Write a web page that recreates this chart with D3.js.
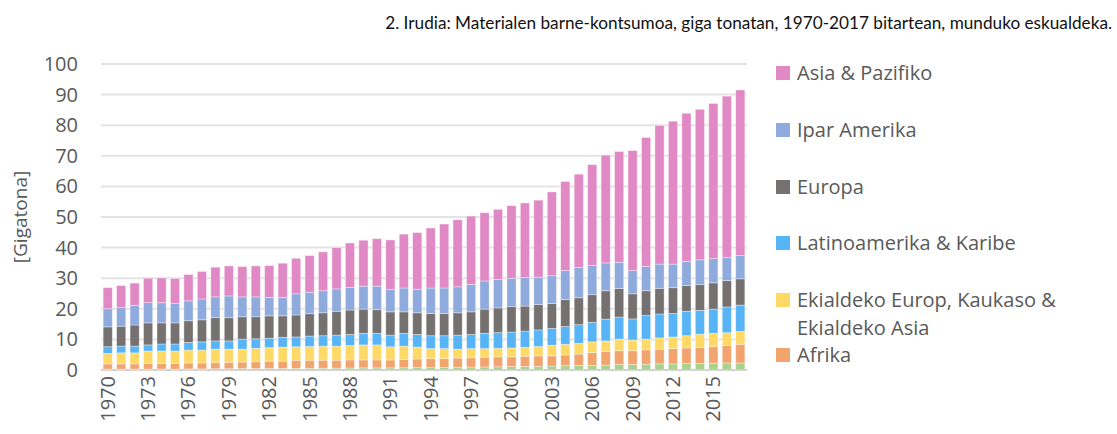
<!DOCTYPE html>
<html>
<head>
<meta charset="utf-8">
<script src="https://cdn.jsdelivr.net/npm/d3@7"></script>
<style>
  body { margin: 0; background: #fff; }
  text { font-family: "Open Sans", "Noto Sans", sans-serif; }
</style>
</head>
<body>
<svg id="chart" width="1117" height="434"></svg>
<script>
var years = d3.range(1970, 2018);
var tickYears = [1970, 1973, 1976, 1979, 1982, 1985, 1988, 1991, 1994, 1997, 2000, 2003, 2006, 2009, 2012, 2015];
var yTicks = [0, 10, 20, 30, 40, 50, 60, 70, 80, 90, 100];

// series values in gigatonnes, bottom to top
var mendebaldekoAsia = [0.3,0.3,0.3,0.3,0.3,0.3,0.35,0.35,0.4,0.4,0.45,0.45,0.5,0.5,0.5,0.55,0.6,0.6,0.65,0.7,0.7,0.7,0.75,0.8,0.8,0.85,0.9,0.95,1.0,1.05,1.1,1.15,1.2,1.3,1.4,1.5,1.5,1.6,1.8,1.8,1.9,2.0,2.0,2.1,2.1,2.2,2.3,2.3];
var afrika = [1.7,1.7,1.7,1.8,1.8,1.8,1.95,1.95,2.0,2.1,2.15,2.25,2.4,2.4,2.7,2.65,2.6,2.6,2.65,2.6,2.6,2.6,2.65,2.8,2.9,2.85,3.0,3.05,3.2,3.25,3.2,3.35,3.4,3.3,3.5,3.7,4.2,4.4,4.5,4.5,4.7,4.8,5.0,5.1,5.3,5.4,5.7,6.1];
var ekialdekoEuropa = [3.4,3.6,3.6,4.1,4.1,4.1,4.2,4.2,4.4,4.3,4.2,4.4,4.4,4.6,4.4,4.5,4.6,4.6,4.7,4.9,4.9,4.3,4.4,3.9,3.3,3.3,2.9,3.0,2.8,2.8,2.9,2.9,3.1,3.5,3.5,3.5,3.5,3.5,3.8,3.5,3.5,3.7,3.8,4.0,4.3,4.4,4.2,4.2];
var latinoamerika = [2.2,2.2,2.2,2.0,2.3,2.3,2.5,2.7,2.7,2.7,3.3,3.1,3.1,3.2,3.2,3.4,3.4,3.6,3.6,3.8,3.8,3.8,4.2,4.1,4.2,4.2,4.6,4.6,5.0,5.1,5.2,5.3,5.4,5.5,5.8,6.1,6.4,7.1,7.2,6.9,7.7,7.8,7.7,8.0,7.8,7.9,8.4,8.6];
var europa = [6.5,6.5,6.9,7.2,6.9,6.9,7.1,7.2,7.6,7.6,7.3,7.2,7.3,7.0,7.2,7.3,7.5,7.8,8.0,7.9,7.7,7.6,7.0,7.1,7.3,7.3,7.3,7.4,7.9,8.1,8.3,8.2,8.3,8.1,8.8,8.8,9.0,9.3,9.3,8.2,8.1,8.4,8.4,8.4,8.4,8.6,8.6,8.6];
var iparAmerika = [5.9,6.1,6.4,6.6,6.6,6.3,6.5,6.8,6.8,7.1,6.5,6.5,6.0,6.0,6.9,7.0,7.2,7.3,7.4,7.5,7.7,7.3,7.8,7.7,8.3,8.3,8.5,9.0,9.2,9.3,9.3,9.3,8.9,9.1,9.5,9.9,9.6,9.1,8.6,7.6,7.9,7.9,7.7,7.9,8.1,7.9,7.6,7.6];
var asiaPazifiko = [6.9,7.2,7.3,8.0,8.1,8.2,8.6,9.0,9.7,9.8,9.9,10.1,10.4,11.2,11.6,12.0,12.7,13.5,14.5,15.0,15.5,16.2,17.6,18.5,19.6,20.9,21.9,22.3,22.3,22.9,23.7,24.4,25.2,27.4,29.1,30.5,32.9,35.2,36.2,39.2,42.2,45.3,46.7,48.4,49.2,50.7,52.7,54.1];

var seriesNames = ["Mendebaldeko Asia", "Afrika", "Ekialdeko Europ, Kaukaso & Ekialdeko Asia", "Latinoamerika & Karibe", "Europa", "Ipar Amerika", "Asia & Pazifiko"];
var seriesValues = [mendebaldekoAsia, afrika, ekialdekoEuropa, latinoamerika, europa, iparAmerika, asiaPazifiko];
var colors = ["#a9d18e", "#f1a46e", "#ffd966", "#56b4f7", "#767171", "#8faadc", "#e089c4"];

// legend (top to bottom), the green series has no entry in the original
var legendItems = [
  {name: "Asia & Pazifiko", lines: ["Asia & Pazifiko"], color: "#e089c4", y: 73},
  {name: "Ipar Amerika", lines: ["Ipar Amerika"], color: "#8faadc", y: 130},
  {name: "Europa", lines: ["Europa"], color: "#767171", y: 187},
  {name: "Latinoamerika & Karibe", lines: ["Latinoamerika & Karibe"], color: "#56b4f7", y: 243},
  {name: "Ekialdeko Europ, Kaukaso & Ekialdeko Asia", lines: ["Ekialdeko Europ, Kaukaso &", "Ekialdeko Asia"], color: "#ffd966", y: 300},
  {name: "Afrika", lines: ["Afrika"], color: "#f1a46e", y: 355}
];

var table = years.map(function(yr, i) {
  var row = {year: yr};
  seriesNames.forEach(function(n, k) { row[n] = seriesValues[k][i]; });
  return row;
});

var svg = d3.select("#chart");
var plotLeft = 101, plotRight = 747, plotTop = 64, plotBottom = 370;

var x = d3.scaleBand()
  .domain(years)
  .range([plotLeft, plotRight])
  .paddingInner(0.32)
  .paddingOuter(0.16);

var y = d3.scaleLinear()
  .domain([0, 100])
  .range([plotBottom, plotTop]);

// gridlines
svg.append("g")
  .selectAll("line")
  .data(yTicks)
  .enter()
  .append("line")
  .attr("x1", plotLeft)
  .attr("x2", plotRight)
  .attr("y1", function(d) { return y(d); })
  .attr("y2", function(d) { return y(d); })
  .style("stroke", function(d) { return d === 0 ? "#d0d0d0" : "#e4e4e4"; })
  .style("stroke-width", "2px");

var stack = d3.stack().keys(seriesNames);
var layers = stack(table);

svg.append("g")
  .selectAll("g")
  .data(layers)
  .enter()
  .append("g")
  .style("fill", function(d, i) { return colors[i]; })
  .selectAll("rect")
  .data(function(d) { return d; })
  .enter()
  .append("rect")
  .attr("x", function(d) { return x(d.data.year); })
  .attr("width", x.bandwidth())
  .attr("y", function(d) { return y(d[1]); })
  .attr("height", function(d) { return y(d[0]) - y(d[1]); })
  .style("stroke", "#ffffff")
  .style("stroke-opacity", 0.45)
  .style("stroke-width", "0.8px");

// y axis labels
svg.append("g")
  .selectAll("text")
  .data(yTicks)
  .enter()
  .append("text")
  .attr("x", 78)
  .attr("y", function(d) { return y(d); })
  .attr("dy", "0.35em")
  .style("text-anchor", "end")
  .style("font-size", "20px")
  .style("fill", "#595959")
  .text(function(d) { return d; });

svg.append("text")
  .attr("transform", "translate(27," + ((plotTop + plotBottom) / 2) + ") rotate(-90)")
  .style("text-anchor", "middle")
  .style("font-size", "19px")
  .style("fill", "#595959")
  .text("[Gigatona]");

// x axis labels
svg.append("g")
  .selectAll("text")
  .data(tickYears)
  .enter()
  .append("text")
  .attr("transform", function(d) {
    return "translate(" + (x(d) + x.bandwidth() / 2) + "," + (plotBottom + 6) + ") rotate(-90)";
  })
  .attr("dy", "0.35em")
  .style("text-anchor", "end")
  .style("font-size", "20px")
  .style("fill", "#595959")
  .text(function(d) { return d; });

// title
svg.append("text")
  .attr("x", 1112)
  .attr("y", 29)
  .style("text-anchor", "end")
  .style("font-family", "Lato, 'Open Sans', sans-serif")
  .style("font-size", "17.2px")
  .style("fill", "#111")
  .text("2. Irudia: Materialen barne-kontsumoa, giga tonatan, 1970-2017 bitartean, munduko eskualdeka.");

// legend
var leg = svg.append("g")
  .selectAll("g")
  .data(legendItems)
  .enter()
  .append("g");

leg.append("rect")
  .attr("x", 776)
  .attr("y", function(d) { return d.y - 7; })
  .attr("width", 14)
  .attr("height", 14)
  .style("fill", function(d) { return d.color; });

leg.append("text")
  .attr("x", 797)
  .attr("y", function(d) { return d.y; })
  .style("font-size", "20px")
  .style("fill", "#595959")
  .selectAll("tspan")
  .data(function(d) { return d.lines; })
  .enter()
  .append("tspan")
  .attr("x", 797)
  .attr("dy", function(d, i) { return i === 0 ? "0.35em" : "28px"; })
  .text(function(d) { return d; });
</script>
</body>
</html>
